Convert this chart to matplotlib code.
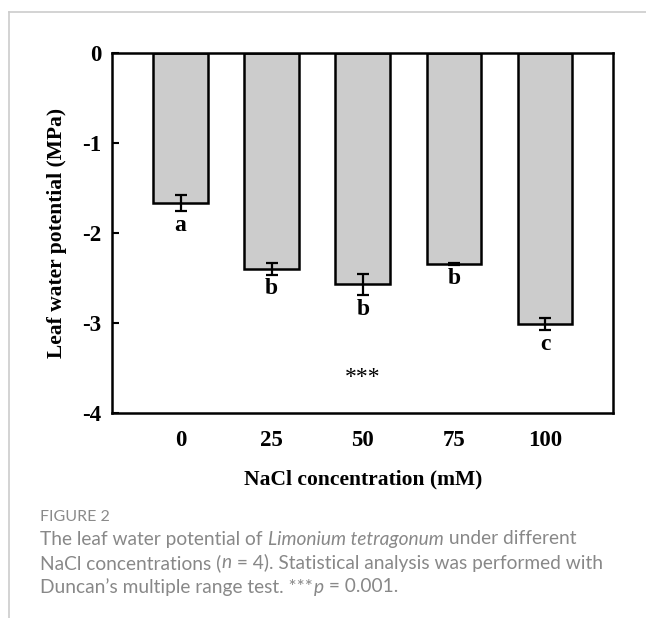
import matplotlib
matplotlib.use("Agg")
from matplotlib import pyplot as plt
from matplotlib.lines import Line2D
import numpy as np

# data
nacl = ['0', '25', '50', '75', '100']
potential = [-1.67, -2.40, -2.57, -2.34, -3.01]
sem = [0.088, 0.067, 0.12, 0.01, 0.07]
letters = ['a', 'b', 'b', 'b', 'c']

caption_title = "FIGURE 2"
caption_lines = [
    [("The leaf water potential of ", "normal"), ("Limonium tetragonum", "italic"), (" under different", "normal")],
    [("NaCl concentrations (", "normal"), ("n", "italic"), (" = 4). Statistical analysis was performed with", "normal")],
    [("Duncan\u2019s multiple range test. ***", "normal"), ("p", "italic"), (" = 0.001.", "normal")],
]

serif = ['Liberation Serif', 'DejaVu Serif']
sans = ['Lato', 'Open Sans', 'DejaVu Sans']

fig = plt.figure(figsize=(6.46, 6.18), dpi=100)

# page frame lines (top and left)
fig.add_artist(Line2D([9/646, 1], [1-11.5/618, 1-11.5/618], color='#cccccc', lw=1.2))
fig.add_artist(Line2D([9/646, 9/646], [0, 1-11.5/618], color='#cccccc', lw=1.2))

ax = fig.add_axes([112.3/646, 1-413.3/618, 501/646, 360.6/618])

x = np.arange(len(nacl))
ax.bar(x, potential, width=0.6, color='#cccccc', edgecolor='black', linewidth=1.8, zorder=2)
ax.errorbar(x, potential, yerr=sem, fmt='none', ecolor='black', elinewidth=1.6,
            capsize=4.5, capthick=1.6, zorder=3)

for i in range(len(nacl)):
    ax.annotate(letters[i], (x[i], potential[i] - sem[i]), xytext=(0, -10),
                textcoords='offset points', ha='center', va='center',
                fontsize=17, fontweight='bold', family=serif)

ax.text(2, -3.6, '***', ha='center', va='center', fontsize=17, family=serif)

ax.set_xlim(-0.75, 4.75)
ax.set_ylim(-4, 0)
ax.set_yticks([0, -1, -2, -3, -4])
ax.set_yticklabels(['0', '-1', '-2', '-3', '-4'])
ax.set_xticks(x)
ax.set_xticklabels(nacl)
ax.tick_params(axis='y', direction='in', length=5, width=1.5, pad=8)
ax.tick_params(axis='x', length=0, pad=12)
for lab in ax.get_xticklabels() + ax.get_yticklabels():
    lab.set_fontsize(16.5)
    lab.set_fontweight('bold')
    lab.set_family(serif)
for sp in ax.spines.values():
    sp.set_linewidth(1.8)

ax.set_xlabel('NaCl concentration (mM)', fontsize=15.5, fontweight='bold', family=serif, labelpad=13)
ax.set_ylabel('Leaf water potential (MPa)', fontsize=15.5, fontweight='bold', family=serif, labelpad=11)

# caption
fig.text(40.5/646, 1-516.7/618, caption_title, fontsize=11.5, color='#8a8a8a', family=sans,
         va='center', ha='left')

renderer = fig.canvas.get_renderer()
y_pix = [539, 563, 587]
for line, yp in zip(caption_lines, y_pix):
    xp = 40.5
    for txt, style in line:
        t = fig.text(xp/646, 1-yp/618, txt, fontsize=13.8, color='#888888', family=sans,
                     style=style, va='center', ha='left')
        bb = t.get_window_extent(renderer=renderer)
        xp += bb.width

fig.savefig('out.png', dpi=100)
